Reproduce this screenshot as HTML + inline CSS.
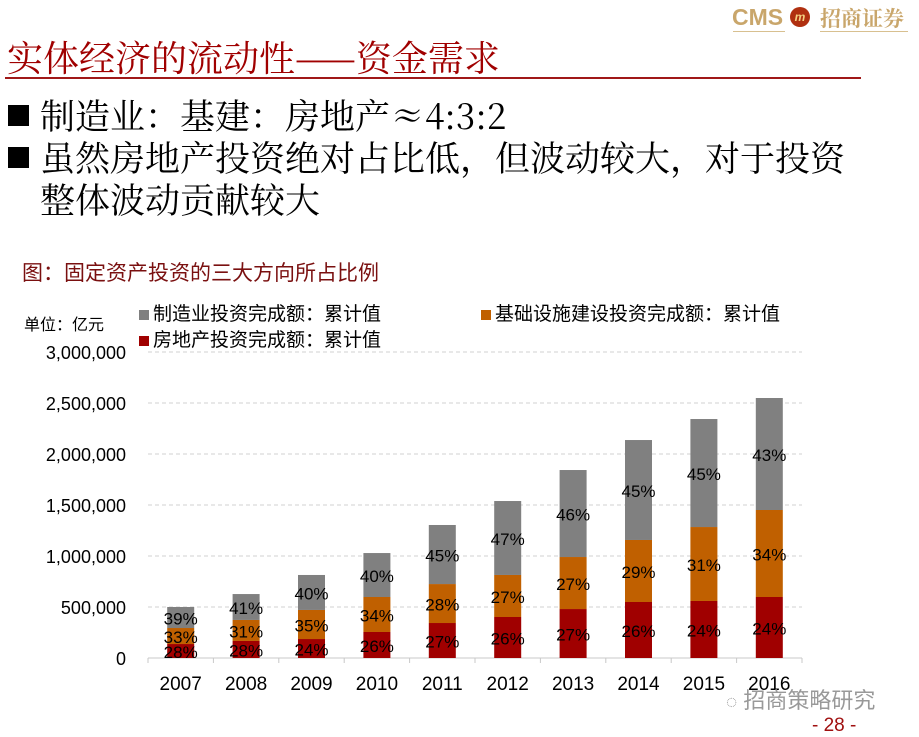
<!DOCTYPE html>
<html><head><meta charset="utf-8">
<style>
body{margin:0;width:919px;height:737px;background:#fff;position:relative;overflow:hidden;font-family:"Liberation Sans","Noto Sans CJK SC",sans-serif;}
.abs{position:absolute;white-space:nowrap;}
</style></head><body>
<div class="abs" style="left:730px;top:2px;width:185px;height:32px;">
  <span class="abs" style="left:2px;top:2px;font-size:23px;font-weight:bold;color:#c9a66b;">CMS</span>
  <div class="abs" style="left:60px;top:5px;width:20px;height:20px;border-radius:50%;background:#b03010;color:#f3d080;font-size:12px;font-weight:bold;text-align:center;line-height:20px;font-style:italic;">m</div>
  <span class="abs" style="left:90px;top:1px;font-size:21px;font-weight:bold;color:#c9a66b;font-family:'Noto Serif CJK SC',serif;">招商证券</span>
  <div class="abs" style="left:3px;top:29px;width:52px;height:1px;background:#d8c090;"></div>
  <div class="abs" style="left:90px;top:29px;width:88px;height:1px;background:#d8c090;"></div>
</div>
<div class="abs" style="left:7px;top:31px;font-size:36px;color:#a00000;font-family:'Noto Serif CJK SC',serif;">实体经济的流动性——资金需求</div>
<div class="abs" style="left:5px;top:77px;width:856px;height:2px;background:#a01818;"></div>
<div class="abs" style="left:8px;top:93px;font-size:35px;line-height:44px;color:#000;font-family:'Noto Serif CJK SC',serif;"><span style="display:inline-block;width:21px;height:21px;background:#000;margin-right:11px;vertical-align:3px;"></span>制造业：基建：房地产≈4:3:2</div>
<div class="abs" style="left:8px;top:136px;font-size:35px;color:#000;font-family:'Noto Serif CJK SC',serif;line-height:42px;"><span style="display:inline-block;width:21px;height:21px;background:#000;margin-right:11px;vertical-align:3px;"></span>虽然房地产投资绝对占比低，但波动较大，对于投资<br><span style="margin-left:32px;">整体波动贡献较大</span></div>
<div class="abs" style="left:22px;top:257px;font-size:21px;color:#7a1010;">图：固定资产投资的三大方向所占比例</div>
<div class="abs" style="left:24px;top:311px;font-size:16px;color:#000;">单位：亿元</div>
<div class="abs" style="left:139px;top:299px;font-size:19px;color:#000;"><span style="display:inline-block;width:10px;height:10px;background:#808080;margin-right:4px;"></span>制造业投资完成额：累计值</div>
<div class="abs" style="left:481px;top:299px;font-size:19px;color:#000;"><span style="display:inline-block;width:10px;height:10px;background:#c06000;margin-right:4px;"></span>基础设施建设投资完成额：累计值</div>
<div class="abs" style="left:139px;top:325px;font-size:19px;color:#000;"><span style="display:inline-block;width:10px;height:10px;background:#a00000;margin-right:4px;"></span>房地产投资完成额：累计值</div>
<svg class="abs" style="left:0;top:0" width="919" height="737" id="chart"></svg>
<div class="abs" style="left:726px;top:683px;font-size:22px;color:#999;"><span style="font-size:19px;">◌</span> 招商策略研究</div>
<div class="abs" style="left:812px;top:715px;font-size:19px;color:#a01010;">- 28 -</div>
<script>
const years=["2007","2008","2009","2010","2011","2012","2013","2014","2015","2016"];
const realEstate=[137,167,186,255,343,402,480,549,559,598];
const infra=[157,206,285,343,382,412,510,608,725,853];
const manuf=[206,254,343,431,579,725,853,980,1059,1098];
const pctRE=["28%","28%","24%","26%","27%","26%","27%","26%","24%","24%"];
const pctInfra=["33%","31%","35%","34%","28%","27%","27%","29%","31%","34%"];
const pctManuf=["39%","41%","40%","40%","45%","47%","46%","45%","45%","43%"];
const yTicks=[0,500000,1000000,1500000,2000000,2500000,3000000];
const yTickLabels=["0","500,000","1,000,000","1,500,000","2,000,000","2,500,000","3,000,000"];
const svg=document.getElementById('chart');const NS='http://www.w3.org/2000/svg';
const x0=148,x1=802,y0=658,y1=352,ymax=3000000;
const step=(x1-x0)/years.length;
const yS=v=>y0-(v/ymax)*(y0-y1);
const xC=i=>x0+step*(i+0.5);
function mk(t,a){const e=document.createElementNS(NS,t);for(const k in a)e.setAttribute(k,a[k]);svg.appendChild(e);return e;}
yTicks.forEach((v,i)=>{
  if(i>0){const g=mk('line',{x1:x0,x2:x1,y1:yS(v),y2:yS(v),stroke:'#d0d0d0','stroke-dasharray':'4,3'});
  
  }
  const t=mk('text',{x:126,y:yS(v)+7,'text-anchor':'end','font-size':18,fill:'#000'});t.textContent=yTickLabels[i];
  
  
});
const ax=mk('line',{x1:x0,x2:x1,y1:y0,y2:y0,stroke:'#c8c8c8'});


for(let i=0;i<=years.length;i++){const tk=mk('line',{x1:x0+step*i,x2:x0+step*i,y1:y0,y2:y0+5,stroke:'#c8c8c8'});

}
const segs=[[realEstate,'#a00000',pctRE],[infra,'#c06000',pctInfra],[manuf,'#808080',pctManuf]];
years.forEach((yr,i)=>{
  let base=0;
  segs.forEach(([arr,col,pct],s)=>{
    const v=arr[i]*1000, top=yS(base+v), bot=yS(base);
    const r=mk('rect',{x:xC(i)-13.5,y:top,width:27,height:bot-top,fill:col});
    
    
    const t=mk('text',{x:xC(i),y:(top+bot)/2+7,'text-anchor':'middle','font-size':17,fill:'#000'});t.textContent=pct[i];
    
    
    base+=v;
  });
  const xl=mk('text',{x:xC(i),y:690,'text-anchor':'middle','font-size':19,fill:'#000'});xl.textContent=yr;
  
  
});
</script>
</body></html>
